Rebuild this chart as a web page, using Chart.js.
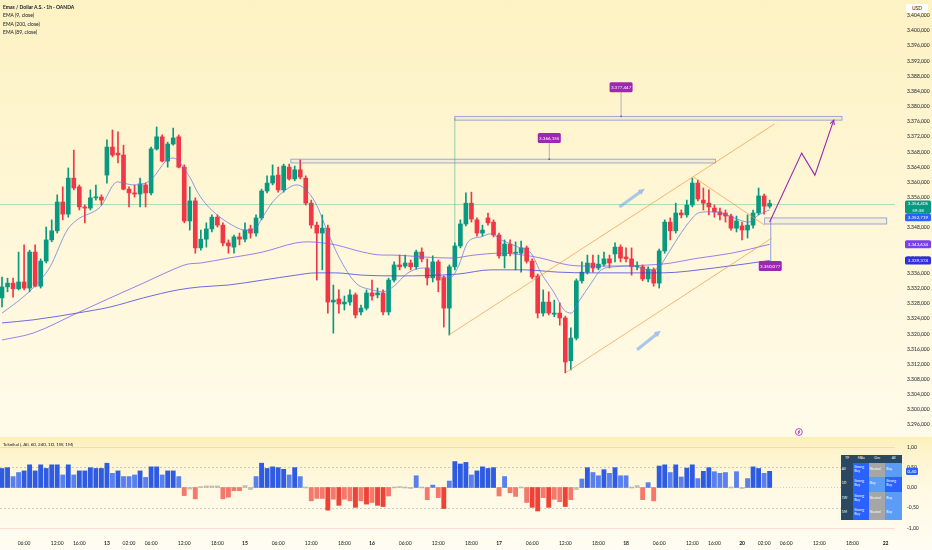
<!DOCTYPE html>
<html>
<head>
<meta charset="utf-8">
<script src="https://cdn.jsdelivr.net/npm/chart.js@4.4.1/dist/chart.umd.min.js"></script>
<style>
  body { margin:0; width:932px; height:550px; overflow:hidden; position:relative; font-family:Lato, "Open Sans", sans-serif; }
  #mainBg { position:absolute; left:0; top:0; width:932px; height:437px; background:linear-gradient(#fdf2c3, #fff7d9 55%, #fffbea); }
  #subBg { position:absolute; left:0; top:437px; width:932px; height:113px; background:linear-gradient(#fcefb8 0, #fdf3c9 10%, #fff9e3 45%, #fffdf3 100%); }
  canvas { position:absolute; left:0; }
  #legend { position:absolute; left:3px; top:3px; font-size:5px; line-height:8.3px; color:#131722; }
  #legend .t { font-weight:bold; }
  #subLegend { position:absolute; left:3px; top:442px; font-size:4.5px; color:#131722; }
  #usd { position:absolute; left:906px; top:4px; width:22px; height:9px; background:#fff; border-radius:2px; font-size:5px; line-height:9px; text-align:center; color:#131722; }
  #tbl { position:absolute; left:841px; top:455px; width:61px; height:65px; border-collapse:separate; border-spacing:0.6px; background:#e9eef6; table-layout:fixed; font-size:3.4px; color:#fff; }
  #tbl th, #tbl td { padding:0 0.8px; line-height:1.15; text-align:left; font-weight:normal; }
  #tbl th { background:#2b4862; text-align:center; height:8px; }
  #tbl .tf { background:#2b4862; }
  #tbl .sb { background:#2962ff; }
  #tbl .b { background:#5b9cf6; }
  #tbl .nt { background:#a6a6a6; }
</style>
</head>
<body>
<div id="mainBg"></div>
<div id="subBg"></div>
<canvas id="price" width="932" height="437" style="top:0"></canvas>
<canvas id="rating" width="932" height="113" style="top:437px"></canvas>
<div id="legend">
  <div class="t">Emas / Dollar A.S. · 1h · OANDA</div>
  <div>EMA (9, close)</div>
  <div>EMA (200, close)</div>
  <div>EMA (89, close)</div>
</div>
<div id="subLegend">Teknikal (, All, 60, 240, 1D, 1W, 1M)</div>
<div id="usd">USD</div>
<table id="tbl">
  <colgroup><col style="width:12px"><col style="width:15px"><col style="width:16px"><col style="width:16px"></colgroup>
  <tr><th>TF</th><th>MAs</th><th>Osc</th><th>All</th></tr>
  <tr><td class="tf">All</td><td class="sb">Strong<br>Buy</td><td class="nt">Neutral</td><td class="b">Buy</td></tr>
  <tr><td class="tf">1D</td><td class="sb">Strong<br>Buy</td><td class="b">Buy</td><td class="sb">Strong<br>Buy</td></tr>
  <tr><td class="tf">1W</td><td class="sb">Strong<br>Buy</td><td class="nt">Neutral</td><td class="b">Buy</td></tr>
  <tr><td class="tf">1M</td><td class="sb">Strong<br>Buy</td><td class="nt">Neutral</td><td class="b">Buy</td></tr>
</table>
<script>
// hourly candles, one slot per bar
var opens = [
  3329.5,3332.4,3333.4,3331.9,3333.7,3332.1,3341.6,3332.6,3339.2,3344.8,
  3347.2,3354.8,3351.6,3361.1,3358.8,3353.5,3353.2,3355.9,3356.1,3361.9,
  3369.3,3367.7,3367.2,3358.2,3357.2,3356.9,3359.3,3357.2,3368.8,3372.0,
  3365.6,3370.1,3372.0,3364.0,3349.8,3355.1,3342.7,3345.0,3347.7,3350.8,
  3348.7,3344.0,3342.9,3345.6,3345.0,3347.7,3346.6,3350.6,3357.7,3359.8,
  3361.9,3358.0,3364.0,3360.9,3363.3,3361.1,3354.5,3348.7,3346.6,3347.9,
  3328.4,3329.2,3327.9,3328.4,3330.3,3325.8,3326.8,3330.8,3330.3,3330.8,
  3325.8,3334.2,3338.2,3337.9,3338.7,3337.7,3341.6,3337.4,3334.8,3339.0,
  3334.8,3326.8,3337.7,3343.2,3349.0,3354.5,3350.1,3346.6,3350.6,3349.5,
  3346.1,3340.6,3343.7,3341.3,3341.3,3342.7,3339.2,3335.3,3325.5,3328.4,
  3325.2,3325.5,3324.2,3312.9,3318.9,3334.0,3336.3,3338.7,3337.4,3338.4,
  3339.8,3341.1,3342.9,3340.3,3339.8,3337.7,3337.7,3334.5,3336.9,3333.4,
  3341.9,3349.5,3347.2,3351.9,3351.4,3354.0,3359.8,3355.3,3354.5,3353.2,
  3352.2,3351.9,3351.1,3347.9,3348.5,3347.4,3348.7,3351.9,3356.4,3353.7
];
var highs = [
  3335.0,3334.7,3334.7,3341.6,3343.5,3342.1,3343.5,3339.8,3348.2,3350.1,
  3356.7,3358.8,3363.8,3368.5,3359.3,3354.0,3358.0,3359.3,3356.7,3371.2,
  3373.8,3373.3,3369.8,3358.8,3359.3,3361.1,3359.8,3369.3,3374.6,3372.5,
  3370.6,3374.3,3372.5,3364.6,3358.8,3355.9,3347.4,3349.3,3351.4,3351.4,
  3349.3,3344.8,3346.1,3346.6,3349.3,3348.7,3351.4,3358.2,3361.7,3364.6,
  3364.0,3364.8,3364.8,3364.3,3365.9,3361.7,3355.3,3349.5,3351.4,3348.7,
  3332.9,3331.6,3330.0,3331.6,3330.8,3327.6,3331.6,3334.2,3332.1,3331.6,
  3334.7,3339.0,3340.8,3340.8,3339.5,3342.1,3342.7,3339.8,3340.6,3339.5,
  3335.3,3338.2,3344.0,3350.1,3357.2,3357.4,3350.6,3348.7,3351.9,3350.1,
  3346.6,3344.8,3344.8,3344.3,3344.5,3343.2,3339.8,3335.8,3331.6,3331.1,
  3328.9,3328.2,3324.7,3321.6,3334.5,3339.0,3340.8,3340.8,3340.8,3341.6,
  3340.8,3344.0,3343.5,3342.7,3342.7,3339.0,3338.2,3337.7,3337.4,3342.4,
  3350.1,3350.6,3354.5,3352.7,3355.3,3361.1,3360.6,3358.5,3358.0,3354.0,
  3353.2,3352.7,3351.6,3351.1,3349.5,3351.4,3352.7,3358.5,3356.9,3355.3
];
var lows = [
  3327.1,3331.1,3329.7,3331.6,3331.6,3331.1,3332.4,3332.1,3338.7,3344.3,
  3346.6,3350.1,3350.8,3358.0,3352.7,3349.3,3352.7,3355.3,3354.0,3359.8,
  3366.7,3365.1,3358.0,3353.5,3356.1,3353.5,3353.5,3356.7,3368.5,3365.4,
  3364.0,3369.8,3363.8,3349.3,3347.4,3341.3,3342.1,3342.9,3346.9,3348.2,
  3343.2,3341.3,3341.3,3343.5,3344.3,3345.3,3345.8,3350.1,3357.2,3359.3,
  3357.4,3357.4,3360.6,3360.4,3360.9,3354.0,3347.9,3334.2,3336.9,3325.5,
  3320.2,3325.5,3326.3,3327.6,3324.2,3325.0,3326.3,3328.9,3329.5,3325.0,
  3325.0,3333.7,3336.9,3337.4,3336.9,3337.1,3339.0,3332.9,3333.7,3331.1,
  3321.8,3319.7,3336.9,3342.7,3348.5,3349.5,3345.8,3345.8,3348.7,3345.6,
  3340.0,3337.4,3340.6,3336.9,3336.3,3338.7,3334.5,3324.2,3324.7,3325.0,
  3324.5,3322.3,3309.7,3310.5,3318.4,3333.4,3335.8,3336.3,3336.9,3337.9,
  3337.4,3339.0,3339.0,3339.0,3335.5,3336.9,3334.0,3333.7,3332.6,3332.1,
  3341.3,3344.8,3346.6,3350.6,3350.8,3353.5,3355.1,3352.7,3351.4,3350.8,
  3350.1,3349.5,3347.4,3346.9,3344.8,3345.3,3347.9,3351.4,3351.6,3353.2
];
var closes = [
  3332.4,3333.4,3331.9,3333.7,3332.1,3341.6,3332.6,3339.2,3344.8,3347.2,
  3354.8,3351.6,3361.1,3358.5,3353.5,3353.2,3355.9,3356.1,3355.3,3369.3,
  3367.2,3367.2,3358.2,3357.2,3356.9,3359.6,3357.2,3368.8,3372.0,3365.6,
  3370.1,3371.7,3364.0,3349.8,3355.1,3342.7,3345.0,3347.7,3350.8,3348.7,
  3344.0,3343.2,3345.6,3345.0,3347.4,3346.6,3350.6,3357.7,3359.8,3361.7,
  3358.0,3364.3,3360.9,3363.3,3361.4,3354.5,3348.7,3346.6,3347.9,3328.4,
  3328.9,3327.9,3328.4,3330.3,3325.0,3326.8,3330.8,3330.0,3330.8,3325.8,
  3334.2,3338.2,3337.7,3338.7,3337.7,3341.6,3339.8,3334.8,3339.0,3334.2,
  3326.8,3337.7,3343.2,3349.0,3354.5,3350.3,3346.6,3347.4,3349.3,3346.1,
  3340.6,3343.7,3341.3,3341.5,3342.7,3339.2,3335.0,3325.5,3328.4,3325.5,
  3325.5,3324.2,3312.6,3318.9,3334.0,3336.3,3338.7,3337.4,3338.4,3339.8,
  3338.7,3342.9,3340.0,3339.8,3337.7,3337.9,3334.5,3337.1,3333.4,3341.9,
  3349.5,3347.2,3351.9,3351.4,3354.0,3359.8,3355.6,3354.5,3353.5,3352.2,
  3351.4,3351.1,3347.9,3349.8,3347.4,3348.7,3351.9,3356.4,3353.7,3354.405
];

// moving averages (slot, price)
var ema9Slots = [0,2.7,5.6,8.7,11.8,13.6,17.8,20.9,23.8,26.9,29.9,31.0,34.1,35.4,37.4,42.3,44.1,45.9,47.2,49.0,51.4,53.2,54.4,56.8,58.6,61.0,64.1,67.1,68.9,70.8,73.5,76.4,79.5,81.3,82.6,84.4,86.7,88.5,90.4,93.5,95.8,97.6,100.0,101.8,103.1,104.3,106.7,108.5,110.9,114.0,117.0,118.9,119.9,121.8,124.3,126.1,127.9,130.3,132.6,135.2,137.0,139];
var ema9Values = [3325.5,3328.4,3332.1,3337.7,3347.4,3350.1,3353.5,3360.1,3359.3,3360.6,3365.9,3366.4,3361.1,3357.4,3353.5,3348.2,3347.4,3347.9,3350.8,3354.8,3358.0,3359.3,3358.8,3354.5,3348.2,3340.3,3333.4,3331.6,3331.1,3332.4,3336.1,3337.4,3335.0,3335.0,3337.7,3344.3,3345.6,3346.4,3344.8,3342.9,3341.3,3336.1,3330.8,3326.3,3325.5,3328.2,3333.4,3336.9,3337.7,3337.9,3336.9,3337.4,3339.5,3344.0,3349.3,3351.9,3352.2,3351.9,3350.6,3349.5,3351.4,3352.719];
var ema89Slots = [0,5.6,13.6,19.6,25.6,29.9,33.6,35.9,41.0,47.2,53.2,55.5,58.1,60.4,65.3,68.9,70.4,76.4,81.3,85.5,90.4,94.5,97.6,102.5,106.7,119.4,126.1,132.1,139];
var ema89Values = [3318.4,3320.2,3325.5,3329.5,3333.4,3336.3,3338.4,3338.7,3340.0,3341.6,3344.0,3344.3,3344.0,3343.5,3341.6,3340.8,3340.8,3340.3,3340.0,3340.8,3341.3,3340.8,3340.0,3338.2,3337.9,3338.4,3340.0,3341.3,3343.634];
var ema200Slots = [0,5.6,13.6,19.6,25.6,31.8,35.9,41.0,47.2,53.2,56.8,60.4,65.3,71.3,82.6,88.5,94.5,100.7,106.7,119.4,129.0,139];
var ema200Values = [3322.9,3323.7,3325.5,3327.1,3329.5,3331.6,3332.4,3332.9,3334.2,3335.5,3336.1,3336.1,3335.5,3335.3,3335.8,3336.9,3336.9,3336.3,3336.1,3336.1,3337.4,3339.374];

// technical rating histogram, one value per candle
var ratings = [
  0.47,0.49,0.27,0.37,0.41,0.56,0.41,0.56,0.47,0.56,
  0.56,0.31,0.56,0.31,0.41,0.41,0.49,0.47,0.47,0.60,
  0.35,0.41,0.27,0.27,0.31,0.41,0.25,0.51,0.51,0.31,
  0.41,0.41,0.27,-0.20,-0.04,-0.28,0.01,0.04,0.04,0.04,
  -0.28,-0.24,-0.08,-0.08,0.05,-0.05,0.27,0.60,0.47,0.51,
  0.49,0.45,0.31,0.49,0.27,0.00,-0.33,-0.27,-0.27,-0.56,
  -0.29,-0.44,-0.29,-0.33,-0.49,-0.33,-0.41,-0.37,-0.44,-0.47,
  -0.21,0.00,0.01,0.00,-0.01,0.29,0.00,-0.30,0.06,-0.25,
  -0.52,0.16,0.64,0.58,0.62,0.31,0.41,0.51,0.47,0.49,
  -0.21,0.27,-0.13,-0.22,0.00,-0.37,-0.49,-0.58,-0.25,-0.49,
  -0.29,-0.35,-0.47,-0.30,-0.05,0.21,0.49,0.37,0.29,0.44,
  0.35,0.49,0.29,0.29,0.00,0.05,-0.30,0.12,-0.33,0.53,
  0.56,0.37,0.56,0.26,0.48,0.56,0.22,0.40,0.49,0.39,
  0.35,0.37,0.00,0.39,-0.02,0.22,0.51,0.47,0.35,0.40
];

// axes
var priceTicks = [3296,3300,3304,3308,3312,3316,3320,3324,3328,3332,3336,3340,3344,3348,3352,3356,3360,3364,3368,3372,3376,3380,3384,3388,3392,3396,3400,3404];
var ratingTicks = [1, 0.5, 0, -0.5, -1];
var tickSlots = [4,10,14,19,23,27,33,39,44,50,56,62,67,73,79,85,90,96,102,108,113,119,125,129,134,138,142,148,154,160];
var tickLabels = ['06:00','12:00','16:00','13','02:00','06:00','12:00','18:00','15','06:00','12:00','18:00','16','06:00','12:00','18:00','17','06:00','12:00','18:00','18','06:00','12:00','16:00','20','02:00','06:00','12:00','18:00','22'];
var countdown = '59:38';

// drawings on the price pane (slot, price)
var levelBoxes = [
  { from:52.3, to:129.2, top:3366.1, bottom:3365.1, label:'3.366,155', labelAt:99.1, labelPrice:3371.7 },
  { from:82.0, to:152.1, top:3377.4, bottom:3376.4, label:'3.377,447', labelAt:112.1, labelPrice:3385.1 }
];
var smallBox = { from:138.1, to:160.2, top:3350.6, bottom:3349.0 };
var measure = { at:139.2, top:3350.1, bottom:3339.0, label:'3.350,077', labelPrice:3337.9 };
var greenMark = { at:82.0, top:3377.0, bottom:3342.9 };
var channelUpper = [[80.9,3319.7],[139.9,3375.4]];
var channelLower = [[102.2,3309.9],[139.4,3345.3]];
var flagLine = [[125.2,3361.4],[138.1,3348.7]];
var projection = [[139.0,3349.5],[144.8,3367.7],[147.2,3361.9],[150.6,3376.4]];
var hintArrows = [[[111.8,3353.5],[116.1,3358.0]], [[115.0,3315.8],[119.0,3320.5]]];
var eventSlot = 144.3;

var xMin = -0.363, xMax = 161.7;
var UP = '#089981', DOWN = '#f23645';

function fmt(v, d) {
  var s = Math.abs(v).toFixed(d).split('.');
  var whole = s[0].replace(/\B(?=(\d{3})+(?!\d))/g, '.');
  return (v < 0 ? '-' : '') + whole + (d ? ',' + s[1] : '');
}

function tag(ctx, text, cx, cy, color, w, h, sub) {
  ctx.fillStyle = color;
  ctx.beginPath();
  ctx.roundRect(cx - w / 2, cy - h / 2, w, h, 1.5);
  ctx.fill();
  ctx.fillStyle = '#fff';
  ctx.font = '4.5px Lato';
  ctx.textAlign = 'center';
  ctx.textBaseline = 'middle';
  if (sub) {
    ctx.fillText(text, cx, cy - h / 4);
    ctx.fillText(sub, cx, cy + h / 4);
  } else {
    ctx.fillText(text, cx, cy + 0.3);
  }
}

function arrowHead(ctx, x1, y1, x2, y2, len, filled) {
  var ang = Math.atan2(y2 - y1, x2 - x1);
  ctx.beginPath();
  ctx.moveTo(x2 - len * Math.cos(ang - 0.45), y2 - len * Math.sin(ang - 0.45));
  ctx.lineTo(x2, y2);
  ctx.lineTo(x2 - len * Math.cos(ang + 0.45), y2 - len * Math.sin(ang + 0.45));
  if (filled) { ctx.closePath(); ctx.fill(); } else { ctx.stroke(); }
}

var drawings = {
  id: 'drawings',
  afterDatasetsDraw: function (chart) {
    var ctx = chart.ctx, a = chart.chartArea;
    var X = function (v) { return chart.scales.x.getPixelForValue(v); };
    var Y = function (v) { return chart.scales.y.getPixelForValue(v); };
    ctx.save();

    // last price line
    var py = Math.round(Y(closes[closes.length - 1])) + 0.5;
    ctx.strokeStyle = 'rgba(8,153,129,0.3)';
    ctx.lineWidth = 1;
    ctx.beginPath(); ctx.moveTo(a.left, py); ctx.lineTo(a.right, py); ctx.stroke();

    // green vertical
    ctx.strokeStyle = 'rgba(8,153,129,0.55)';
    ctx.lineWidth = 0.8;
    ctx.beginPath(); ctx.moveTo(X(greenMark.at), Y(greenMark.top)); ctx.lineTo(X(greenMark.at), Y(greenMark.bottom)); ctx.stroke();

    // level boxes with price tags
    levelBoxes.forEach(function (b) {
      var x1 = X(b.from), x2 = X(b.to), y1 = Y(b.top), y2 = Y(b.bottom);
      ctx.fillStyle = 'rgba(41,98,255,0.06)';
      ctx.fillRect(x1, y1, x2 - x1, y2 - y1);
      ctx.strokeStyle = 'rgba(100,120,205,0.75)';
      ctx.lineWidth = 0.8;
      ctx.strokeRect(x1, y1, x2 - x1, y2 - y1);
      var lx = X(b.labelAt), ly = Y(b.labelPrice);
      ctx.strokeStyle = 'rgba(120,150,170,0.8)';
      ctx.beginPath(); ctx.moveTo(lx, ly + 5); ctx.lineTo(lx, y1); ctx.stroke();
      ctx.fillStyle = '#4a64c8';
      ctx.beginPath(); ctx.arc(lx, y1, 0.9, 0, 7); ctx.fill();
      tag(ctx, b.label, lx, ly, '#9c27b0', 23, 10);
    });

    // small box and measure line
    var sx1 = X(smallBox.from), sx2 = X(smallBox.to), sy1 = Y(smallBox.top), sy2 = Y(smallBox.bottom);
    ctx.fillStyle = 'rgba(41,98,255,0.05)';
    ctx.fillRect(sx1, sy1, sx2 - sx1, sy2 - sy1);
    ctx.strokeStyle = 'rgba(100,120,205,0.75)';
    ctx.strokeRect(sx1, sy1, sx2 - sx1, sy2 - sy1);
    ctx.strokeStyle = 'rgba(80,110,210,0.8)';
    ctx.beginPath(); ctx.moveTo(X(measure.at), Y(measure.top)); ctx.lineTo(X(measure.at), Y(measure.bottom)); ctx.stroke();

    // orange channel
    ctx.strokeStyle = 'rgba(245,150,60,0.85)';
    ctx.lineWidth = 0.8;
    [channelUpper, channelLower, flagLine].forEach(function (l) {
      ctx.beginPath(); ctx.moveTo(X(l[0][0]), Y(l[0][1])); ctx.lineTo(X(l[1][0]), Y(l[1][1])); ctx.stroke();
    });

    // projected path
    ctx.strokeStyle = '#9c27b0';
    ctx.lineWidth = 1.1;
    ctx.beginPath();
    projection.forEach(function (p, k) { if (k) ctx.lineTo(X(p[0]), Y(p[1])); else ctx.moveTo(X(p[0]), Y(p[1])); });
    ctx.stroke();
    var pa = projection[projection.length - 2], pb = projection[projection.length - 1];
    arrowHead(ctx, X(pa[0]), Y(pa[1]), X(pb[0]), Y(pb[1]), 5, false);

    // hint arrows
    ctx.strokeStyle = 'rgba(100,160,240,0.55)';
    ctx.fillStyle = 'rgba(100,160,240,0.6)';
    ctx.lineWidth = 3.2;
    hintArrows.forEach(function (h) {
      var x1 = X(h[0][0]), y1 = Y(h[0][1]), x2 = X(h[1][0]), y2 = Y(h[1][1]);
      var ang = Math.atan2(y2 - y1, x2 - x1);
      ctx.beginPath(); ctx.moveTo(x1, y1); ctx.lineTo(x2 - 4 * Math.cos(ang), y2 - 4 * Math.sin(ang)); ctx.stroke();
      arrowHead(ctx, x1, y1, x2 + 2 * Math.cos(ang), y2 + 2 * Math.sin(ang), 7, true);
    });

    tag(ctx, measure.label, X(measure.at) - 0.5, Y(measure.labelPrice), '#9c27b0', 23, 10);

    // event marker
    var ex = X(eventSlot), ey = a.bottom - 5;
    ctx.strokeStyle = '#9c27b0';
    ctx.lineWidth = 0.8;
    ctx.beginPath(); ctx.arc(ex, ey, 3.4, 0, 7); ctx.stroke();
    ctx.beginPath(); ctx.moveTo(ex + 0.8, ey - 2); ctx.lineTo(ex - 0.9, ey + 0.3); ctx.lineTo(ex + 0.9, ey - 0.3); ctx.lineTo(ex - 0.8, ey + 2); ctx.stroke();
    ctx.restore();
  },
  afterDraw: function (chart) {
    var ctx = chart.ctx;
    var Y = function (v) { return chart.scales.y.getPixelForValue(v); };
    var cx = 918;
    ctx.save();
    var last = closes[closes.length - 1];
    var gy = Y(last);
    tag(ctx, fmt(last, 3), cx, gy + 3.5, UP, 26, 13, countdown);
    tag(ctx, fmt(ema9Values[ema9Values.length - 1], 3), cx, gy + 14, '#2962ff', 26, 7.5);
    tag(ctx, fmt(ema89Values[ema89Values.length - 1], 3), cx, Y(ema89Values[ema89Values.length - 1]), '#7b3ff2', 26, 8);
    tag(ctx, fmt(ema200Values[ema200Values.length - 1], 3), cx, Y(ema200Values[ema200Values.length - 1]), '#2f2fe0', 26, 8);
    ctx.restore();
  }
};

function emaData(slots, values) {
  return slots.map(function (s, k) { return { x: s, y: values[k] }; });
}
var slots = closes.map(function (c, i) { return i; });
function candleColor(ctx) {
  var i = ctx.dataIndex;
  return closes[i] >= opens[i] ? UP : DOWN;
}

Chart.defaults.font.family = 'Lato, "Open Sans", sans-serif';
Chart.defaults.font.size = 5;
Chart.defaults.color = '#131722';

new Chart(document.getElementById('price'), {
  type: 'bar',
  data: {
    datasets: [
      { type: 'line', data: emaData(ema9Slots, ema9Values), borderColor: 'rgba(94,118,230,0.8)', borderWidth: 0.9, pointRadius: 0, cubicInterpolationMode: 'monotone' },
      { type: 'line', data: emaData(ema89Slots, ema89Values), borderColor: 'rgba(125,85,240,0.75)', borderWidth: 1, pointRadius: 0, cubicInterpolationMode: 'monotone' },
      { type: 'line', data: emaData(ema200Slots, ema200Values), borderColor: 'rgba(60,60,225,0.75)', borderWidth: 1, pointRadius: 0, cubicInterpolationMode: 'monotone' },
      { data: slots.map(function (i) { return { x: i, y: [opens[i], closes[i]] }; }), backgroundColor: candleColor, barThickness: 4, minBarLength: 1, grouped: false },
      { data: slots.map(function (i) { return { x: i, y: [lows[i], highs[i]] }; }), backgroundColor: candleColor, barThickness: 1, grouped: false }
    ]
  },
  options: {
    responsive: false,
    animation: false,
    events: [],
    layout: { padding: 0 },
    plugins: { legend: { display: false }, tooltip: { enabled: false } },
    scales: {
      x: { type: 'linear', min: xMin, max: xMax, offset: false, display: false },
      y: {
        type: 'linear', position: 'right', min: 3292.8, max: 3408.1,
        grid: { display: false, drawTicks: false },
        border: { display: false },
        afterBuildTicks: function (s) { s.ticks = priceTicks.map(function (v) { return { value: v }; }); },
        afterFit: function (s) { s.width = 37; s.paddingTop = 0; s.paddingBottom = 0; },
        ticks: { padding: 12, callback: function (v) { return fmt(v, 3); } }
      }
    }
  },
  plugins: [drawings]
});

function ratingColor(ctx) {
  var v = ratings[ctx.dataIndex];
  if (v > 0.05) return v >= 0.4 ? '#2d5be3' : '#5a80ee';
  if (v < -0.05) return v <= -0.4 ? '#ef4136' : '#f5786c';
  return 'rgba(150,145,140,0.55)';
}

var levels = {
  id: 'levels',
  beforeDatasetsDraw: function (chart) {
    var ctx = chart.ctx, a = chart.chartArea, y = chart.scales.y;
    ctx.save();
    ctx.lineWidth = 0.8;
    ratingTicks.forEach(function (v) {
      var py = Math.round(y.getPixelForValue(v)) + 0.5;
      if (Math.abs(v) === 1) {
        ctx.setLineDash([]);
        ctx.strokeStyle = v > 0 ? 'rgba(190,170,110,0.35)' : 'rgba(235,140,140,0.35)';
      } else {
        ctx.setLineDash(v === 0 ? [1, 2] : [2, 2]);
        ctx.strokeStyle = 'rgba(120,120,120,0.45)';
      }
      ctx.beginPath(); ctx.moveTo(a.left, py); ctx.lineTo(a.right, py); ctx.stroke();
    });
    ctx.restore();
  },
  afterDraw: function (chart) {
    var ctx = chart.ctx, y = chart.scales.y;
    var last = ratings[ratings.length - 1];
    ctx.save();
    tag(ctx, fmt(last, 2), 912, y.getPixelForValue(last), '#2962ff', 12, 7.5);
    ctx.restore();
  }
};

new Chart(document.getElementById('rating'), {
  type: 'bar',
  data: {
    datasets: [
      { data: slots.map(function (i) { return { x: i, y: ratings[i] }; }), backgroundColor: ratingColor, barThickness: 4.2, minBarLength: 1, grouped: false }
    ]
  },
  options: {
    responsive: false,
    animation: false,
    events: [],
    layout: { padding: 0 },
    plugins: { legend: { display: false }, tooltip: { enabled: false } },
    scales: {
      x: {
        type: 'linear', min: xMin, max: xMax, offset: false,
        grid: { display: false, drawTicks: false },
        border: { display: false },
        afterBuildTicks: function (s) { s.ticks = tickSlots.map(function (v) { return { value: v }; }); },
        afterFit: function (s) { s.height = 15; s.paddingLeft = 0; s.paddingRight = 0; },
        ticks: {
          padding: 5, autoSkip: false, maxRotation: 0,
          font: function (c) {
            var t = c.tick ? tickLabels[tickSlots.indexOf(c.tick.value)] : '';
            return { size: 5, weight: /^\d\d?$/.test(t || '') ? 'bold' : 'normal' };
          },
          callback: function (v) { var k = tickSlots.indexOf(v); return k < 0 ? '' : tickLabels[k]; }
        }
      },
      y: {
        type: 'linear', position: 'right', min: -1.173, max: 1.247,
        grid: { display: false, drawTicks: false },
        border: { display: false },
        afterBuildTicks: function (s) { s.ticks = ratingTicks.map(function (v) { return { value: v }; }); },
        afterFit: function (s) { s.width = 37; s.paddingTop = 0; s.paddingBottom = 0; },
        ticks: { padding: 12, callback: function (v) { return fmt(v, 2); } }
      }
    }
  },
  plugins: [levels]
});
</script>
</body>
</html>
